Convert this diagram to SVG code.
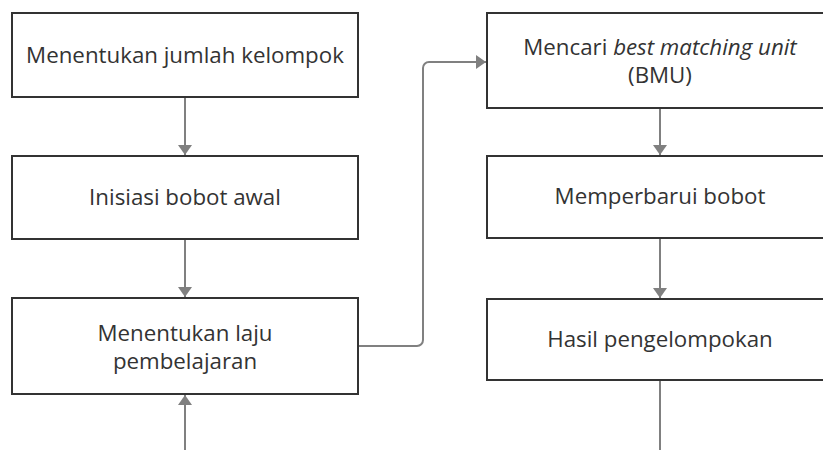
<svg xmlns="http://www.w3.org/2000/svg" width="823" height="450" viewBox="0 0 823 450">
<style>
.box{fill:#fff;stroke:#333;stroke-width:2}
.t{font-family:"Open Sans","Noto Sans",sans-serif;font-size:22.3px;fill:#333;text-anchor:middle}
.c{fill:none;stroke:#808080;stroke-width:2}
</style>
<defs>
<marker id="ah" viewBox="0 0 10 14" refX="10" refY="7" markerWidth="5" markerHeight="7" orient="auto" markerUnits="strokeWidth">
<path d="M0,0L10,7L0,14z" fill="#808080"/>
</marker>
</defs>
<rect width="823" height="450" fill="#fff"/>
<g id="connectors">
<path class="c" d="M185,97V155" marker-end="url(#ah)"/>
<path class="c" d="M185,239V297" marker-end="url(#ah)"/>
<path class="c" d="M185,450V395" marker-end="url(#ah)"/>
<path class="c" d="M358,346H417a6,6 0 0 0 6,-6V68a6,6 0 0 1 6,-6H486" marker-end="url(#ah)"/>
<path class="c" d="M660,108V155" marker-end="url(#ah)"/>
<path class="c" d="M660,238V298" marker-end="url(#ah)"/>
<path class="c" d="M660,380V450"/>
</g>
<g id="n1"><rect class="box" x="12" y="13" width="346" height="84"/><text class="t" x="185" y="63">Menentukan jumlah kelompok</text></g>
<g id="n2"><rect class="box" x="12" y="156" width="346" height="83"/><text class="t" x="185" y="205">Inisiasi bobot awal</text></g>
<g id="n3"><rect class="box" x="12" y="298" width="346" height="96"/><text class="t" x="185" y="341">Menentukan laju</text><text class="t" x="185" y="369">pembelajaran</text></g>
<g id="n4"><rect class="box" x="487" y="13" width="346" height="95"/><text class="t" x="660" y="55">Mencari <tspan font-style="italic">best matching unit</tspan></text><text class="t" x="660" y="83">(BMU)</text></g>
<g id="n5"><rect class="box" x="487" y="156" width="346" height="82"/><text class="t" x="660" y="204">Memperbarui bobot</text></g>
<g id="n6"><rect class="box" x="487" y="299" width="346" height="81"/><text class="t" x="660" y="347">Hasil pengelompokan</text></g>
</svg>
